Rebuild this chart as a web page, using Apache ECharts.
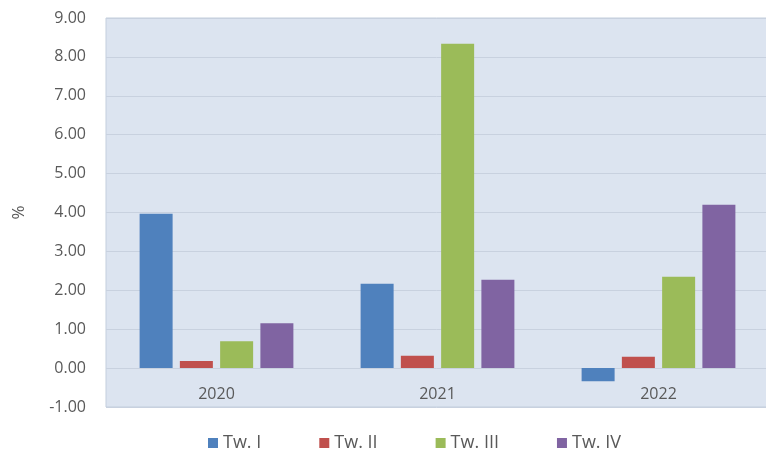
<!DOCTYPE html>
<html><head><meta charset="utf-8">
<script src="https://cdn.jsdelivr.net/npm/echarts@6/dist/echarts.min.js"></script>
<style>html,body{margin:0;padding:0;background:#fff}#c{width:766px;height:460px}</style>
</head><body><div id="c"></div>
<script>
const categories = ['2020', '2021', '2022'];
const seriesNames = ['Tw. I', 'Tw. II', 'Tw. III', 'Tw. IV'];
const twI = [3.97, 2.17, -0.34];
const twII = [0.18, 0.32, 0.29];
const twIII = [0.69, 8.34, 2.35];
const twIV = [1.15, 2.27, 4.20];
const colors = ['#4f81bd', '#c0504d', '#9bbb59', '#8064a2'];
const allData = [twI, twII, twIII, twIV];

const chart = echarts.init(document.getElementById('c'), null, {renderer: 'canvas'});
const font = '"Open Sans", "Noto Sans", sans-serif';
chart.setOption({
  animation: false,
  color: colors,
  grid: {left: 106, top: 18, right: -3, bottom: 53, outerBoundsMode: 'none', containLabel: false,
         show: true, backgroundColor: '#dce4f0', borderColor: '#c3cedd', borderWidth: 1},
  legend: {
    top: 429, left: 203, itemWidth: 10, itemHeight: 10, itemGap: 58, icon: 'rect',
    textStyle: {color: '#595959', fontSize: 18, fontFamily: font},
    data: seriesNames
  },
  xAxis: {
    type: 'category', data: categories,
    axisLine: {show: false},
    axisTick: {show: false},
    axisLabel: {inside: true, color: '#595959', fontSize: 16, fontFamily: font, margin: 5, verticalAlign: 'bottom'}
  },
  yAxis: {
    type: 'value', min: -1, max: 9, interval: 1,
    name: '%', nameLocation: 'middle', nameGap: 78, nameRotate: 90,
    nameTextStyle: {color: '#595959', fontSize: 17, fontFamily: font},
    axisLine: {show: false}, axisTick: {show: false},
    axisLabel: {color: '#595959', fontSize: 16, fontFamily: font, margin: 20, formatter: v => v.toFixed(2)},
    splitLine: {lineStyle: {color: '#c8d1df', width: 1}}
  },
  series: seriesNames.map((n, i) => ({
    name: n, type: 'bar', data: allData[i], barWidth: 33, barGap: '22%'
  }))
});
</script></body></html>
